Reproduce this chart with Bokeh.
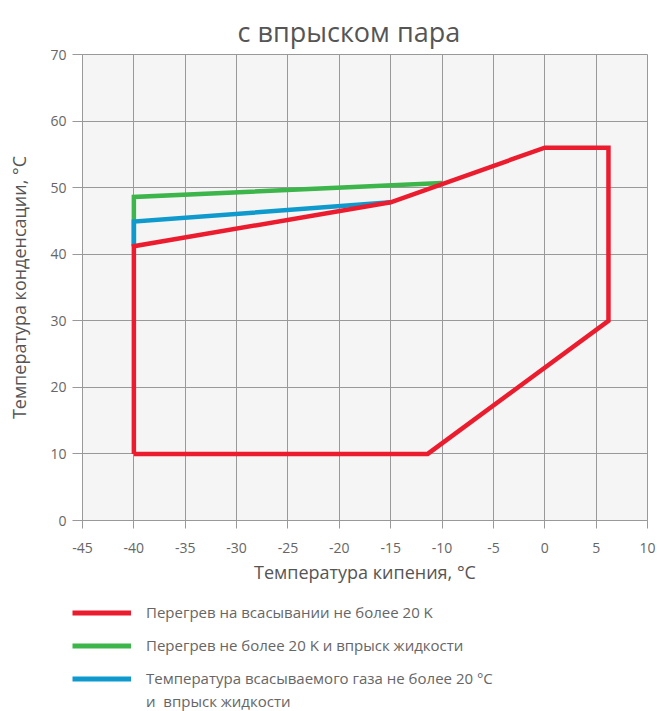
from bokeh.plotting import figure
from bokeh.layouts import column
from bokeh.models import Legend, LegendItem, FixedTicker
from bokeh.embed import file_html
from bokeh.resources import INLINE

# --- data ---
title_text = "с впрыском пара"
x_label = "Температура кипения, °C"
y_label = "Температура конденсации, °C"

red_x = [-40, -40, -15, 0, 6.2, 6.2, -11.4, -40]
red_y = [10, 41.2, 47.8, 56, 56, 30, 10, 10]
green_x = [-40, -40, -10]
green_y = [41.2, 48.6, 50.7]
blue_x = [-40, -40, -15]
blue_y = [41.2, 44.9, 47.8]

x_ticks = [-45, -40, -35, -30, -25, -20, -15, -10, -5, 0, 5, 10]
y_ticks = [0, 10, 20, 30, 40, 50, 60, 70]

red_label = "Перегрев на всасывании не более 20 K"
green_label = "Перегрев не более 20 K и впрыск жидкости"
blue_label = "Температура всасываемого газа не более 20 °C"
blue_label2 = "и  впрыск жидкости"

RED = "#ec1c2f"
GREEN = "#3cb54a"
BLUE = "#0e9acd"
FONT = "Open Sans"
LW = 4.5

p = figure(width=660, height=590, x_range=(-45, 10), y_range=(0, 70),
           output_backend="svg", toolbar_location=None,
           min_border_left=82, min_border_right=13, min_border_top=54,
           min_border_bottom=70)
p.frame_align = False

p.title.text = title_text
p.title.align = "left"
p.title.offset = 155
p.title.text_font = FONT
p.title.text_font_size = "27px"
p.title.text_font_style = "normal"
p.title.text_color = "#555555"

p.background_fill_color = "#f5f5f5"
p.border_fill_color = "white"
p.outline_line_color = "#999999"
p.outline_line_width = 1

p.xaxis.ticker = FixedTicker(ticks=x_ticks)
p.yaxis.ticker = FixedTicker(ticks=y_ticks)
p.xaxis.major_label_overrides = {t: str(t) for t in x_ticks}
p.yaxis.major_label_overrides = {t: str(t) for t in y_ticks}
p.xgrid.ticker = FixedTicker(ticks=x_ticks)
p.ygrid.ticker = FixedTicker(ticks=y_ticks)
p.grid.grid_line_color = "#999999"
p.grid.grid_line_width = 1
p.grid.grid_line_alpha = 1

for ax in (p.xaxis, p.yaxis):
    ax.axis_line_color = "#999999"
    ax.major_tick_line_color = "#999999"
    ax.major_tick_in = 0
    ax.minor_tick_line_color = None
    ax.major_label_text_font = FONT
    ax.major_label_text_font_size = "14px"
    ax.major_label_text_color = "#666666"
    ax.axis_label_text_font = FONT
    ax.axis_label_text_font_size = "18px"
    ax.axis_label_text_font_style = "normal"
    ax.axis_label_text_color = "#555555"

p.xaxis.major_tick_out = 8
p.yaxis.major_tick_out = 10
p.xaxis.major_label_standoff = 14
p.yaxis.major_label_standoff = 6
p.xaxis.axis_label = x_label
p.yaxis.axis_label = y_label
p.xaxis.axis_label_standoff = 4
p.yaxis.axis_label_standoff = 16

p.line(green_x, green_y, line_color=GREEN, line_width=LW, line_join="miter")
p.line(blue_x, blue_y, line_color=BLUE, line_width=LW, line_join="miter")
p.line(red_x, red_y, line_color=RED, line_width=LW, line_join="miter")

# legend panel below the chart
q = figure(width=660, height=121, x_range=(100, 101), y_range=(100, 101),
           output_backend="svg", toolbar_location=None,
           min_border_left=0, min_border_right=0, min_border_top=0,
           min_border_bottom=0)
q.frame_align = False
q.axis.visible = False
q.grid.visible = False
q.outline_line_color = None
q.background_fill_color = None

l_red = q.line(red_x, red_y, line_color=RED, line_width=5)
l_green = q.line(green_x, green_y, line_color=GREEN, line_width=5)
l_blue = q.line(blue_x, blue_y, line_color=BLUE, line_width=5)
l_blank = q.line(blue_x, blue_y, line_alpha=0)


def style(lg, spacing, h):
    lg.glyph_width = 59
    lg.glyph_height = h
    lg.label_height = h
    lg.spacing = spacing
    lg.label_standoff = 15
    lg.label_text_font = FONT
    lg.label_text_font_size = "15px"
    lg.label_text_color = "#666666"
    lg.background_fill_alpha = 0
    lg.border_line_color = None
    lg.padding = 0
    lg.margin = 0
    lg.click_policy = "none"


legend = Legend(items=[
    LegendItem(label=red_label, renderers=[l_red]),
    LegendItem(label=green_label, renderers=[l_green]),
    LegendItem(label=blue_label, renderers=[l_blue]),
], location=(72, 23), orientation="vertical")
style(legend, 13, 19)
q.add_layout(legend, "center")

legend2 = Legend(items=[
    LegendItem(label=blue_label2, renderers=[l_blank]),
], location=(72, 0), orientation="vertical")
style(legend2, 0, 18)
q.add_layout(legend2, "center")

layout = column(p, q, spacing=0)
open("out.html", "w").write(file_html(layout, INLINE))
